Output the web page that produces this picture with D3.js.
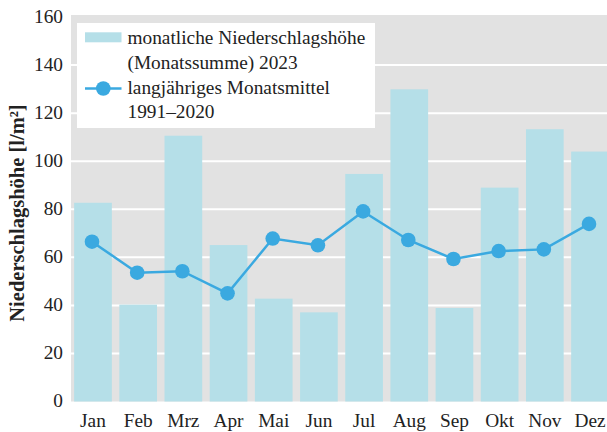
<!DOCTYPE html>
<html>
<head>
<meta charset="utf-8">
<script src="https://cdn.jsdelivr.net/npm/d3@7"></script>
<style>
  body { margin: 0; background: #fff; }
  text { font-family: "Liberation Serif", "DejaVu Serif", serif; fill: #222; }
</style>
</head>
<body>
<script>
//// DATA
var months = ["Jan", "Feb", "Mrz", "Apr", "Mai", "Jun", "Jul", "Aug", "Sep", "Okt", "Nov", "Dez"];
var monthly2023 = [82.7, 40.3, 110.6, 65.1, 42.8, 37.1, 94.7, 129.9, 38.9, 89.0, 113.3, 104.0];
var mean19912020 = [66.5, 53.6, 54.2, 45.0, 67.8, 65.0, 79.1, 67.2, 59.3, 62.6, 63.3, 73.9];
var yTicks = [0, 20, 40, 60, 80, 100, 120, 140, 160];
var legendBars = ["monatliche Niederschlagshöhe", "(Monatssumme) 2023"];
var legendLine = ["langjähriges Monatsmittel", "1991–2020"];

//// DIMENSIONS
var width = 607, height = 432;
var barColor = "#b5dfe8",
    lineColor = "#3aa9e0",
    bgColor = "#e2e2e2";

var xScale = d3.scaleBand()
    .domain(months)
    .range([70.4, 612.6])
    .paddingInner(0.166)
    .paddingOuter(0.083);

var yScale = d3.scaleLinear().domain([0, 160]).range([401.5, 17]);

var svg = d3.select("body").append("svg")
    .attr("width", width)
    .attr("height", height);

// font size: fit the first legend line to the width it has in the reference (~238px)
var probe = svg.append("text").style("font-size", "19px").text(legendBars[0]);
var fs = 19 * 238 / probe.node().getComputedTextLength();
probe.remove();

// plot background
svg.append("rect")
    .attr("x", 71)
    .attr("y", yScale(160) - 2)
    .attr("width", width - 71)
    .attr("height", yScale(0) - yScale(160) + 2)
    .attr("fill", bgColor);

// grid lines
svg.selectAll(".grid")
    .data(yTicks.filter(function(d) { return d > 0 && d < 160; }))
  .enter().append("line")
    .attr("class", "grid")
    .attr("x1", 71)
    .attr("x2", width)
    .attr("y1", function(d) { return yScale(d); })
    .attr("y2", function(d) { return yScale(d); })
    .attr("stroke", "#fff")
    .attr("stroke-width", 2);

// y tick labels
svg.selectAll(".ytick")
    .data(yTicks)
  .enter().append("text")
    .attr("class", "ytick")
    .attr("x", 63)
    .attr("y", function(d) { return yScale(d) - 1; })
    .attr("dy", "0.35em")
    .attr("text-anchor", "end")
    .style("font-size", fs + "px")
    .text(function(d) { return d; });

// bars
svg.selectAll(".bar")
    .data(monthly2023)
  .enter().append("rect")
    .attr("class", "bar")
    .attr("x", function(d, i) { return xScale(months[i]); })
    .attr("width", xScale.bandwidth())
    .attr("y", function(d) { return yScale(d); })
    .attr("height", function(d) { return yScale(0) - yScale(d); })
    .attr("fill", barColor);

// line + dots
var cx = function(d, i) { return xScale(months[i]) + xScale.bandwidth() / 2 - 1; };
var line = d3.line()
    .x(cx)
    .y(function(d) { return yScale(d); });

svg.append("path")
    .datum(mean19912020)
    .attr("d", line)
    .attr("fill", "none")
    .attr("stroke", lineColor)
    .attr("stroke-width", 2.5);

svg.selectAll(".dot")
    .data(mean19912020)
  .enter().append("circle")
    .attr("class", "dot")
    .attr("cx", cx)
    .attr("cy", function(d) { return yScale(d); })
    .attr("r", 7.3)
    .attr("fill", lineColor);

// month labels
svg.selectAll(".xtick")
    .data(months)
  .enter().append("text")
    .attr("class", "xtick")
    .attr("x", function(d) { return xScale(d) + xScale.bandwidth() / 2; })
    .attr("y", 427)
    .attr("text-anchor", "middle")
    .style("font-size", fs + "px")
    .text(function(d) { return d; });

// y axis title
svg.append("text")
    .attr("transform", "translate(23.5,213) rotate(-90)")
    .attr("text-anchor", "middle")
    .style("font-size", (fs * 1.06) + "px")
    .style("font-weight", "bold")
    .text("Niederschlagshöhe [l/m²]");

// legend
var legend = svg.append("g");
legend.append("rect")
    .attr("x", 77).attr("y", 23)
    .attr("width", 298).attr("height", 105)
    .attr("fill", "#fff");
legend.append("rect")
    .attr("x", 85).attr("y", 32.3)
    .attr("width", 36.5).attr("height", 10)
    .attr("fill", barColor);
legend.append("line")
    .attr("x1", 85).attr("x2", 121.5)
    .attr("y1", 88.5).attr("y2", 88.5)
    .attr("stroke", lineColor)
    .attr("stroke-width", 2.5);
legend.append("circle")
    .attr("cx", 103.3).attr("cy", 88.5).attr("r", 7.3)
    .attr("fill", lineColor);

legend.selectAll(".leg")
    .data(legendBars.concat(legendLine))
  .enter().append("text")
    .attr("class", "leg")
    .attr("x", 127.5)
    .attr("y", function(d, i) { return 44.3 + i * 24.7; })
    .style("font-size", fs + "px")
    .text(function(d) { return d; });
</script>
</body>
</html>
